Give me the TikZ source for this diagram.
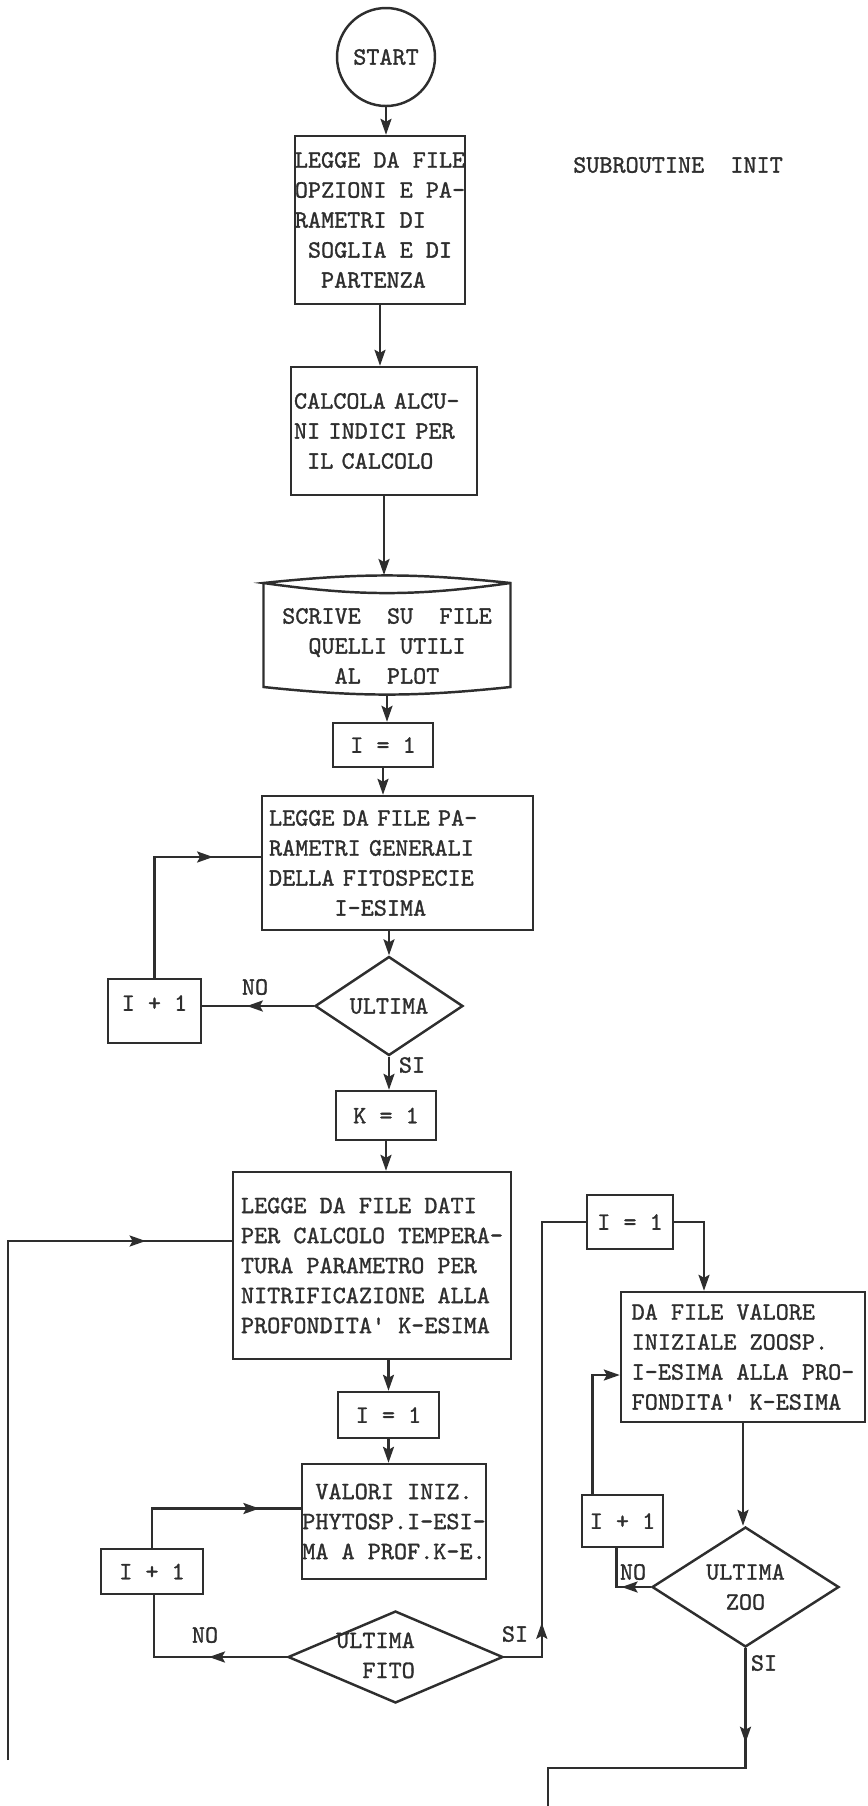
\documentclass[tikz,border=0pt]{standalone}
\usepackage{fontspec}
\newfontfamily\typefont[FakeBold=1.2]{lmmono10-regular.otf}
\usetikzlibrary{calc}
\usetikzlibrary{arrows.meta}
\usetikzlibrary{decorations.markings}
\usetikzlibrary{shapes.geometric}

\colorlet{ink}{black!82}

\tikzset{
  box/.style={draw=ink, line width=1.4pt, rectangle, inner sep=0pt, align=left},
  decision/.style={draw=ink, line width=1.4pt, diamond, inner sep=0pt, align=center},
  line/.style={draw=ink, line width=1.4pt},
  flow/.style={line, -{Stealth[length=0.32cm,width=0.22cm,inset=0.06cm]}},
  midarrow/.style={line, postaction={decorate},
    decoration={markings, mark=at position #1 with {\arrow{Stealth[length=0.32cm,width=0.22cm,inset=0.06cm]}}}},
}

\begin{document}
\begin{tikzpicture}[x=0.02cm,y=-0.02cm,font=\typefont\fontsize{14.2}{17.07}\selectfont,text=ink]%
        \useasboundingbox (0,0) rectangle (867,1806);%
        % main column
        \node[draw=ink, line width=1.4pt, circle, inner sep=0pt, minimum size=1.96cm] (start) at (386,57) {START};%
        \node (title) at (678,165) {SUBROUTINE~~INIT};%
        \node[box, minimum width=3.4cm, minimum height=3.36cm] (legopz) at (380,220)
            {LEGGE DA FILE\\OPZIONI E PA-\\RAMETRI DI\\\phantom{X}SOGLIA E DI\\\phantom{XX}PARTENZA};%
        \node[box, minimum width=3.72cm, minimum height=2.56cm, text width=3.6cm] (calcola) at (384,431)
            {CALCOLA ALCU-\\NI INDICI PER\\\phantom{X}IL CALCOLO};%
        \node[align=center] (scrive) at (387,646) {SCRIVE~~SU~~FILE\\QUELLI UTILI\\AL~~PLOT};%
        \draw[line] ($(scrive.center)+(-123.5,-63)$) coordinate (stl)
            -- ($(scrive.center)+(-123.5,41)$) coordinate (sbl)
            to[bend right=6] ($(scrive.center)+(123.5,41)$) coordinate (sbr)
            -- ($(scrive.center)+(123.5,-63)$) coordinate (str)
            to[bend right=6] (stl) to[bend right=8] (str);%
        \coordinate (scrivetop) at ($(scrive.center)+(0,-71)$);%
        \coordinate (scrivebot) at ($(scrive.center)+(0,49)$);%
        \node[box, align=center, minimum width=2cm, minimum height=0.88cm] (I1a) at (383,745) {I = 1};%
        \node[box, minimum width=5.42cm, minimum height=2.68cm, text width=5.14cm] (legpar) at (397.5,863)
            {LEGGE DA FILE PA-\\RAMETRI GENERALI\\DELLA FITOSPECIE\\\phantom{XXXXX}I-ESIMA};%
        \node[decision, minimum width=2.96cm, minimum height=1.98cm, aspect=1.5] (ult1) at (389,1006) {ULTIMA};%
        \node[box, align=center, minimum width=1.86cm, minimum height=1.28cm] (ip1a) at (154.5,1011)
            {\raisebox{0.16cm}[\height][\depth]{I + 1}};%
        \node[box, align=center, minimum width=2cm, minimum height=0.98cm] (K1) at (386,1115.5) {K = 1};%
        \node[box, minimum width=5.56cm, minimum height=3.74cm] (legdati) at (372,1265.5)
            {LEGGE DA FILE DATI\\PER CALCOLO TEMPERA-\\TURA PARAMETRO PER\\NITRIFICAZIONE ALLA\\PROFONDITA\char39{} K-ESIMA};%
        \node[box, align=center, minimum width=2.02cm, minimum height=0.92cm] (I1b) at (388.5,1415) {I = 1};%
        \node[box, minimum width=3.68cm, minimum height=2.3cm] (valori) at (394,1521.5)
            {\phantom{X}VALORI INIZ.\\PHYTOSP.I-ESI-\\MA A PROF.K-E.};%
        \node[box, align=center, minimum width=2.04cm, minimum height=0.9cm] (ip1b) at (152,1571.5) {I + 1};%
        \node[decision, minimum width=4.3cm, minimum height=1.84cm, aspect=2.3] (fito) at (395.5,1657)
            {\hspace*{-0.8cm}\begin{tabular}{@{}r@{}}ULTIMA\\FITO\end{tabular}};%
        % zoo branch
        \node[box, align=center, minimum width=1.72cm, minimum height=1.08cm] (I1c) at (630,1222) {I = 1};%
        \node[box, minimum width=4.88cm, minimum height=2.6cm] (dafile) at (743,1357)
            {DA FILE VALORE\\INIZIALE ZOOSP.\\I-ESIMA ALLA PRO-\\FONDITA\char39{} K-ESIMA};%
        \node[box, align=center, minimum width=1.62cm, minimum height=1.04cm] (ip1c) at (622.5,1521) {I + 1};%
        \node[decision, minimum width=3.74cm, minimum height=2.4cm, aspect=1.55] (zoo) at (745.5,1587) {ULTIMA\\ZOO};%
        % labels
        \node (no1) at (255,987) {NO};%
        \node (si1) at (412,1065) {SI};%
        \node (no2) at (205,1635) {NO};%
        \node (si2) at (515,1634) {SI};%
        \node (no3) at (633,1572) {NO};%
        \node (si3) at (764,1663) {SI};%
        % connectors
        \draw[flow] (start) -- (start |- legopz.north);%
        \draw[flow] (legopz.south) -- (legopz.south |- calcola.north);%
        \draw[flow] (calcola.south) -- (calcola.south |- scrivetop);%
        \draw[flow] (scrivebot) -- (scrivebot |- I1a.north);%
        \draw[flow] (I1a.south) -- (I1a.south |- legpar.north);%
        \draw[flow] (ult1.north |- legpar.south) -- (ult1.north);%
        \draw[flow] (ult1.south) -- (ult1.south |- K1.north);%
        \draw[flow] (K1.south) -- (K1.south |- legdati.north);%
        \draw[flow] (I1b.north |- legdati.south) -- (I1b.north);%
        \draw[flow] (I1b.south) -- (I1b.south |- valori.north);%
        \draw[midarrow=0.79] (ip1a.north) |- ($(legpar.west)+(0,-6)$);%
        \draw[midarrow=0.6] (ult1.west) -- (ult1.west -| ip1a.east);%
        \draw[midarrow=0.78] (ip1b.north) |- ($(valori.west)+(0,-13)$);%
        \draw[midarrow=0.4] (fito.west) -| ($(ip1b.south)+(2,0)$);%
        \draw[midarrow=0.139] (fito.east) -| ($(I1c.west)+(-44,0)$) -- (I1c.west);%
        \draw[flow] (I1c.east) -| ($(dafile.north)+(-39,0)$);%
        \draw[flow] ($(ip1c.north)+(-30,0)$) |- ($(dafile.west)+(0,18)$);%
        \draw[flow] (dafile.south) -- (dafile.south |- zoo.north);%
        \draw[midarrow=0.4] (zoo.west) -| ($(ip1c.south)+(-6,0)$);%
        \coordinate (zexit) at (548,1806);%
        \draw[midarrow=0.266] (zoo.south) -- ++(0,120) -| (zexit);%
        \coordinate (kback) at (8,1760);%
        \draw[midarrow=0.884] (kback) |- ($(legdati.west)+(0,-24.5)$);%
    \end{tikzpicture}
\end{document}
